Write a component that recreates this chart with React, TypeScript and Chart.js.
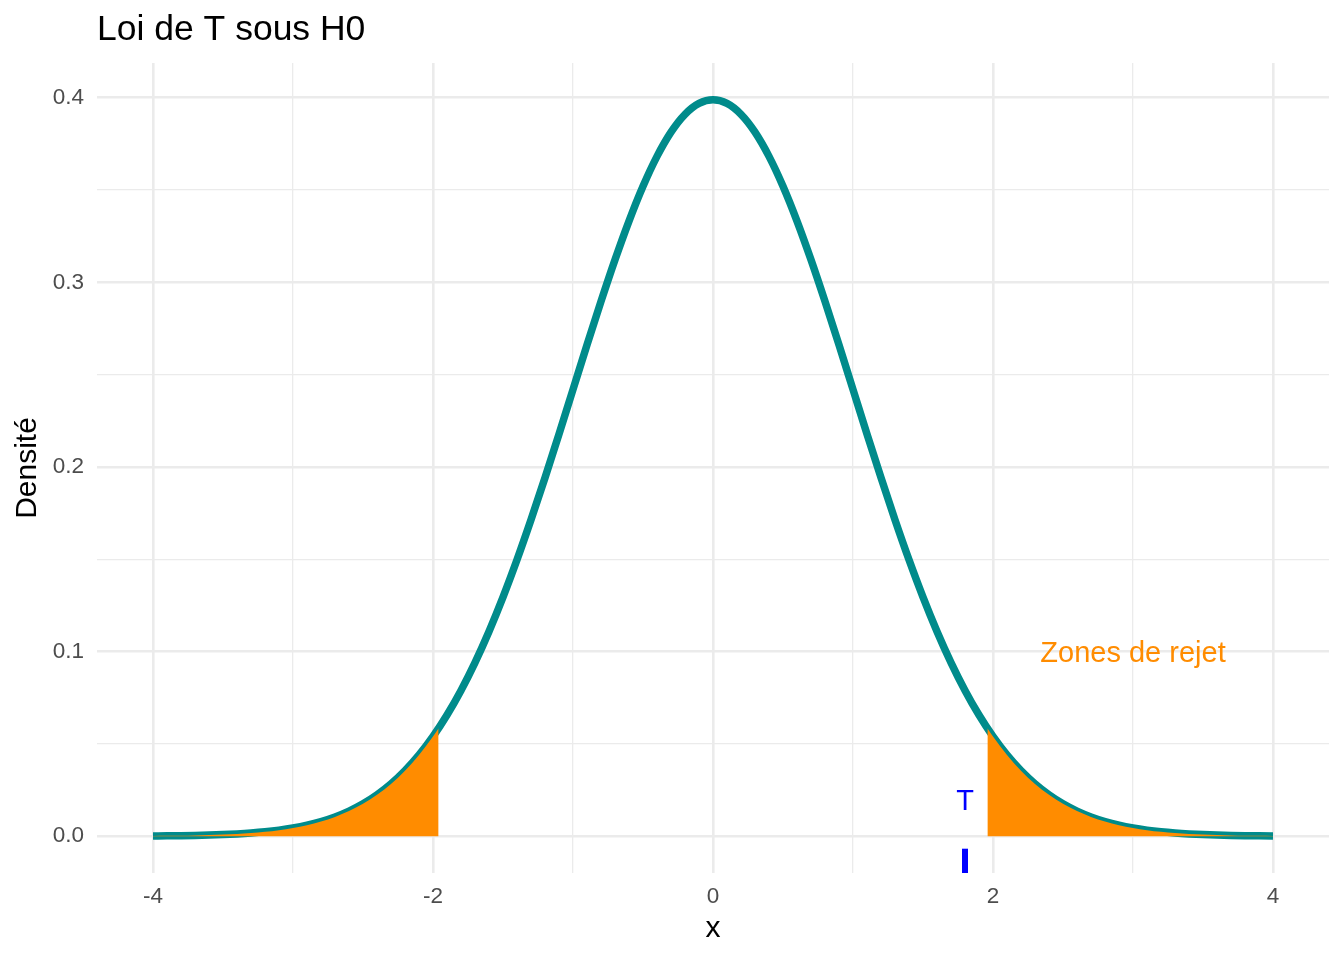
import React, { useEffect, useRef } from 'react';
import { Chart, registerables } from 'chart.js';

Chart.register(...registerables);

// ---- data ----
const xValues = [
  -4.0, -3.9, -3.8, -3.7, -3.6, -3.5, -3.4, -3.3, -3.2, -3.1,
  -3.0, -2.9, -2.8, -2.7, -2.6, -2.5, -2.4, -2.3, -2.2, -2.1,
  -2.0, -1.9, -1.8, -1.7, -1.6, -1.5, -1.4, -1.3, -1.2, -1.1,
  -1.0, -0.9, -0.8, -0.7, -0.6, -0.5, -0.4, -0.3, -0.2, -0.1,
  0.0,
  0.1, 0.2, 0.3, 0.4, 0.5, 0.6, 0.7, 0.8, 0.9, 1.0,
  1.1, 1.2, 1.3, 1.4, 1.5, 1.6, 1.7, 1.8, 1.9, 2.0,
  2.1, 2.2, 2.3, 2.4, 2.5, 2.6, 2.7, 2.8, 2.9, 3.0,
  3.1, 3.2, 3.3, 3.4, 3.5, 3.6, 3.7, 3.8, 3.9, 4.0,
];

const densityValues = [
  0.00013, 0.0002, 0.00029, 0.00042, 0.00061, 0.00087, 0.00123, 0.00172, 0.00238, 0.00327,
  0.00443, 0.00595, 0.00792, 0.01042, 0.01358, 0.01753, 0.02239, 0.02833, 0.03547, 0.04398,
  0.05399, 0.06562, 0.07895, 0.09405, 0.11092, 0.12952, 0.14973, 0.17137, 0.19419, 0.21785,
  0.24197, 0.26609, 0.28969, 0.31225, 0.33322, 0.35207, 0.36827, 0.38139, 0.39104, 0.39695,
  0.39894,
  0.39695, 0.39104, 0.38139, 0.36827, 0.35207, 0.33322, 0.31225, 0.28969, 0.26609, 0.24197,
  0.21785, 0.19419, 0.17137, 0.14973, 0.12952, 0.11092, 0.09405, 0.07895, 0.06562, 0.05399,
  0.04398, 0.03547, 0.02833, 0.02239, 0.01753, 0.01358, 0.01042, 0.00792, 0.00595, 0.00443,
  0.00327, 0.00238, 0.00172, 0.00123, 0.00087, 0.00061, 0.00042, 0.00029, 0.0002, 0.00013,
];

const criticalValue = 1.96;
const criticalDensity = 0.05845;

const statisticT = 1.8;
const labelT = { x: 1.8, y: 0.02, text: 'T' };
const labelReject = { x: 3.0, y: 0.1, text: 'Zones de rejet' };

const xTicks = [-4, -3, -2, -1, 0, 1, 2, 3, 4];
const xTickLabels = ['-4', '', '-2', '', '0', '', '2', '', '4'];
const yTicks = [0, 0.05, 0.1, 0.15, 0.2, 0.25, 0.3, 0.35, 0.4];
const yTickLabels = ['0.0', '', '0.1', '', '0.2', '', '0.3', '', '0.4'];

const chartTitle = 'Loi de T sous H0';
const xTitle = 'x';
const yTitle = 'Densité';

// ---- styles ----
const FONT = '"Liberation Sans", Arial, Helvetica, sans-serif';
const TEAL = '#008B8B';
const ORANGE = '#FF8C00';
const BLUE = '#0000FF';
const GRID = '#EBEBEB';

export default function App() {
  const canvasRef = useRef<HTMLCanvasElement | null>(null);

  useEffect(() => {
    if (!canvasRef.current) return;

    const curve = xValues.map((x, i) => ({ x, y: densityValues[i] }));
    const leftTail = [
      ...xValues
        .map((x, i) => ({ x, y: densityValues[i] }))
        .filter((p) => p.x <= -criticalValue - 1e-9),
      { x: -criticalValue, y: criticalDensity },
    ];
    const rightTail = [
      { x: criticalValue, y: criticalDensity },
      ...xValues
        .map((x, i) => ({ x, y: densityValues[i] }))
        .filter((p) => p.x >= criticalValue + 1e-9),
    ];

    const overlayPlugin = {
      id: 'overlay',
      afterDatasetsDraw(chart: any) {
        const { ctx, chartArea } = chart;
        const xs = chart.scales.x;
        const ys = chart.scales.y;
        ctx.save();
        // rug
        const rx = xs.getPixelForValue(statisticT);
        const len = 0.03 * (chartArea.bottom - chartArea.top);
        ctx.strokeStyle = BLUE;
        ctx.lineWidth = 6;
        ctx.lineCap = 'butt';
        ctx.beginPath();
        ctx.moveTo(rx, chartArea.bottom);
        ctx.lineTo(rx, chartArea.bottom - len);
        ctx.stroke();

        const drawLabel = (lab: { x: number; y: number; text: string }, color: string, size: number) => {
          ctx.font = `${size}px ${FONT}`;
          ctx.fillStyle = color;
          ctx.textAlign = 'center';
          ctx.textBaseline = 'alphabetic';
          const px = xs.getPixelForValue(lab.x);
          const py = ys.getPixelForValue(lab.y) + 0.358 * size;
          ctx.fillText(lab.text, px, py);
        };
        drawLabel(labelT, BLUE, 29);
        drawLabel(labelReject, ORANGE, 29);
        ctx.restore();
      },
      afterDraw(chart: any) {
        const { ctx, chartArea } = chart;
        ctx.save();
        ctx.font = `35.5px ${FONT}`;
        ctx.fillStyle = '#000000';
        ctx.textAlign = 'left';
        ctx.textBaseline = 'alphabetic';
        ctx.fillText(chartTitle, chartArea.left, 40);
        ctx.restore();
      },
    };

    const isMajorX = (v: number) => Math.abs(v / 2 - Math.round(v / 2)) < 1e-9;
    const isMajorY = (v: number) => Math.abs(v * 10 - Math.round(v * 10)) < 1e-6;

    const chart = new Chart(canvasRef.current, {
      type: 'line',
      data: {
        datasets: [
          {
            label: 'left',
            data: leftTail,
            borderWidth: 0,
            borderColor: ORANGE,
            backgroundColor: ORANGE,
            fill: 'origin',
            pointRadius: 0,
            cubicInterpolationMode: 'monotone',
            order: 0,
          },
          {
            label: 'right',
            data: rightTail,
            borderWidth: 0,
            borderColor: ORANGE,
            backgroundColor: ORANGE,
            fill: 'origin',
            pointRadius: 0,
            cubicInterpolationMode: 'monotone',
            order: 0,
          },
          {
            label: 'density',
            data: curve,
            borderColor: TEAL,
            borderWidth: 7.5,
            fill: false,
            pointRadius: 0,
            cubicInterpolationMode: 'monotone',
            borderCapStyle: 'butt',
            order: 1,
          },
        ],
      },
      options: {
        animation: false,
        responsive: false,
        maintainAspectRatio: false,
        events: [],
        layout: { padding: { top: 63, right: 15, left: 0, bottom: 0 } },
        plugins: {
          legend: { display: false },
          title: { display: false },
          tooltip: { enabled: false },
        },
        scales: {
          x: {
            type: 'linear',
            min: -4.4,
            max: 4.4,
            afterBuildTicks: (s: any) => {
              s.ticks = xTicks.map((v) => ({ value: v }));
            },
            afterFit: (s: any) => {
              s.height = 87;
            },
            ticks: {
              autoSkip: false,
              maxRotation: 0,
              padding: 10.5,
              color: '#4D4D4D',
              font: { family: FONT, size: 22.5 },
              callback: (_v: any, i: number) => xTickLabels[i] ?? '',
            },
            grid: {
              color: GRID,
              drawTicks: false,
              lineWidth: (c: any) => (c.tick && isMajorX(c.tick.value) ? 2.6 : 1.3),
            },
            border: { display: false },
            title: {
              display: true,
              text: xTitle,
              color: '#000000',
              font: { family: FONT, size: 30 },
              padding: { top: 0, bottom: 13 },
            },
          },
          y: {
            type: 'linear',
            min: -0.01995,
            max: 0.41884,
            afterBuildTicks: (s: any) => {
              s.ticks = yTicks.map((v) => ({ value: v }));
            },
            afterFit: (s: any) => {
              s.width = 97;
            },
            ticks: {
              autoSkip: false,
              padding: 13,
              color: '#4D4D4D',
              font: { family: FONT, size: 22.5 },
              callback: (_v: any, i: number) => yTickLabels[i] ?? '',
            },
            grid: {
              color: GRID,
              drawTicks: false,
              lineWidth: (c: any) => (c.tick && isMajorY(c.tick.value) ? 2.6 : 1.3),
            },
            border: { display: false },
            title: {
              display: true,
              text: yTitle,
              color: '#000000',
              font: { family: FONT, size: 30 },
              padding: { top: 10, bottom: 0 },
            },
          },
        },
      },
      plugins: [overlayPlugin],
    } as any);

    return () => {
      chart.destroy();
    };
  }, []);

  return (
    <div style={{ position: 'absolute', left: 0, top: 0, width: 1344, height: 960, background: '#ffffff' }}>
      <canvas ref={canvasRef} width={1344} height={960} style={{ display: 'block', width: 1344, height: 960 }} />
    </div>
  );
}
